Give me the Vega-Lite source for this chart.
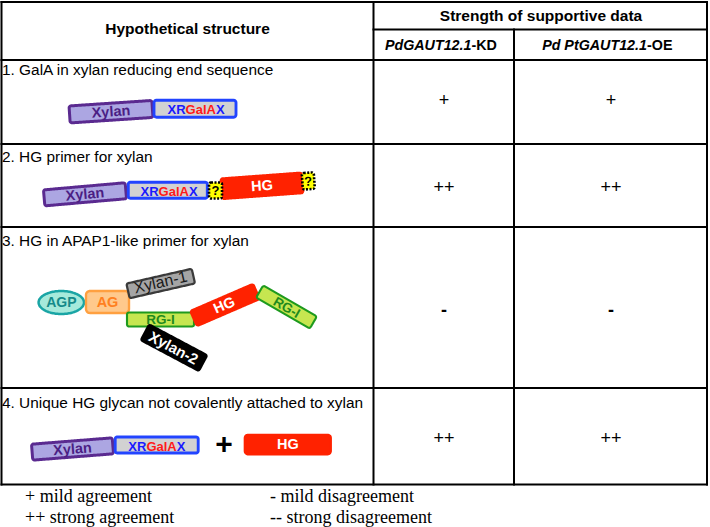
{
  "$schema": "https://vega.github.io/schema/vega-lite/v6.json",
  "width": 710,
  "height": 527,
  "padding": 0,
  "autosize": {"type": "none"},
  "background": "white",
  "config": {"view": {"stroke": null}},
  "datasets": {
    "lines": [
      {"x": 1.5, "y": 2, "x2": 707, "y2": 2},
      {"x": 373.5, "y": 29.5, "x2": 707, "y2": 29.5},
      {"x": 1.5, "y": 60, "x2": 707, "y2": 60},
      {"x": 1.5, "y": 144, "x2": 707, "y2": 144},
      {"x": 1.5, "y": 227, "x2": 707, "y2": 227},
      {"x": 1.5, "y": 388, "x2": 707, "y2": 388},
      {"x": 1.5, "y": 484.5, "x2": 707, "y2": 484.5},
      {"x": 1.5, "y": 2, "x2": 1.5, "y2": 484.5},
      {"x": 373.5, "y": 2, "x2": 373.5, "y2": 484.5},
      {"x": 514, "y": 29.5, "x2": 514, "y2": 484.5},
      {"x": 707, "y": 2, "x2": 707, "y2": 484.5}
    ],
    "boxes": [
      {"id": "x1", "kind": "xylan", "x": 111, "y": 111.7, "a": -3.8},
      {"id": "g1", "kind": "xrgalax", "x": 195, "y": 108.7, "a": 0},
      {"id": "x2", "kind": "xylan", "x": 85, "y": 194.3, "a": -5},
      {"id": "g2", "kind": "xrgalax", "x": 167.8, "y": 190.2, "a": 0},
      {"id": "h2", "kind": "hg", "x": 262, "y": 185.8, "a": -4.2},
      {"id": "q2a", "kind": "q", "x": 215.5, "y": 190.5, "a": 0},
      {"id": "q2b", "kind": "q", "x": 308.3, "y": 181, "a": -4},
      {"id": "agp", "kind": "agp", "x": 61.3, "y": 302.5, "a": 0},
      {"id": "ag", "kind": "ag", "x": 107.5, "y": 302, "a": 0},
      {"id": "rg1", "kind": "rg", "x": 160.5, "y": 319.5, "a": 0},
      {"id": "h3", "kind": "hg", "x": 225, "y": 305, "a": -23.4},
      {"id": "rg2", "kind": "rg", "x": 286.5, "y": 307, "a": 30},
      {"id": "xy2", "kind": "black", "x": 174, "y": 347.7, "a": 28},
      {"id": "xy1", "kind": "gray", "x": 160.7, "y": 283.5, "a": -12.8},
      {"id": "x4", "kind": "xylan", "x": 72.5, "y": 449, "a": -4.5},
      {"id": "g4", "kind": "xrgalax", "x": 156.7, "y": 445, "a": 0},
      {"id": "h4", "kind": "hg", "x": 287.8, "y": 444.5, "a": 0}
    ],
    "texts": [
      {"g": "head", "x": 187.5, "y": 29.4, "t": "Hypothetical structure"},
      {"g": "head", "x": 541, "y": 16.2, "t": "Strength of supportive data"},
      {"g": "subi", "x": 471.5, "y": 50, "t": "PdGAUT12.1"},
      {"g": "subi", "x": 647, "y": 50, "t": "Pd PtGAUT12.1"},
      {"g": "sub", "x": 471.5, "y": 50, "t": "-KD"},
      {"g": "sub", "x": 647, "y": 50, "t": "-OE"},
      {"g": "title", "x": 2, "y": 75, "t": "1. GalA in xylan reducing end sequence"},
      {"g": "title", "x": 2, "y": 162, "t": "2. HG primer for xylan"},
      {"g": "title", "x": 2, "y": 246, "t": "3. HG in APAP1-like primer for xylan"},
      {"g": "title", "x": 2, "y": 408, "t": "4. Unique HG glycan not covalently attached to xylan"},
      {"g": "cell", "x": 444, "y": 100.7, "t": "+"},
      {"g": "cell", "x": 611, "y": 100.7, "t": "+"},
      {"g": "cell", "x": 444, "y": 187.5, "t": "++"},
      {"g": "cell", "x": 611, "y": 187.5, "t": "++"},
      {"g": "cell", "x": 444, "y": 439, "t": "++"},
      {"g": "cell", "x": 611, "y": 439, "t": "++"},
      {"g": "minus", "x": 444, "y": 310.5, "t": "-"},
      {"g": "minus", "x": 611, "y": 310.5, "t": "-"},
      {"g": "legend", "x": 25, "y": 502, "t": "+ mild agreement"},
      {"g": "legend", "x": 25, "y": 523, "t": "++ strong agreement"},
      {"g": "legend", "x": 270, "y": 502, "t": "- mild disagreement"},
      {"g": "legend", "x": 270, "y": 523, "t": "-- strong disagreement"},
      {"g": "labX", "x": 111, "y": 112.5, "t": "Xylan", "a": -3.8},
      {"g": "labX", "x": 85, "y": 195, "t": "Xylan", "a": -5},
      {"g": "labX", "x": 72.5, "y": 449.8, "t": "Xylan", "a": -4.5},
      {"g": "labB", "x": 167.5, "y": 114.3, "t": "XR"},
      {"g": "labR", "x": 185.6, "y": 114.3, "t": "GalA"},
      {"g": "labB", "x": 215.9, "y": 114.3, "t": "X"},
      {"g": "labB", "x": 140.5, "y": 195.7, "t": "XR"},
      {"g": "labR", "x": 158.6, "y": 195.7, "t": "GalA"},
      {"g": "labB", "x": 188.9, "y": 195.7, "t": "X"},
      {"g": "labB", "x": 128.3, "y": 450.7, "t": "XR"},
      {"g": "labR", "x": 146.4, "y": 450.7, "t": "GalA"},
      {"g": "labB", "x": 176.7, "y": 450.7, "t": "X"},
      {"g": "labW", "x": 262, "y": 186.5, "t": "HG", "a": -4.2},
      {"g": "labW", "x": 224.5, "y": 305.8, "t": "HG", "a": -23.4},
      {"g": "labW", "x": 287.8, "y": 445.3, "t": "HG", "a": 0},
      {"g": "labW2", "x": 173.5, "y": 348, "t": "Xylan-2", "a": 28},
      {"g": "labQ", "x": 215.5, "y": 191.2, "t": "?", "a": 0},
      {"g": "labQ", "x": 308.3, "y": 181.7, "t": "?", "a": -4},
      {"g": "labAGP", "x": 61.3, "y": 303.3, "t": "AGP"},
      {"g": "labAG", "x": 107.5, "y": 302.8, "t": "AG"},
      {"g": "labXy1", "x": 160.5, "y": 282.5, "t": "Xylan-1", "a": -12.8},
      {"g": "labRG", "x": 160.5, "y": 320.3, "t": "RG-I", "a": 0},
      {"g": "labRG", "x": 286.5, "y": 307.8, "t": "RG-I", "a": 30},
      {"g": "bigplus", "x": 224, "y": 444.5, "t": "+"}
    ]
  },
  "encoding": {
    "x": {"field": "x", "type": "quantitative", "scale": {"domain": [0, 710], "range": [0, 710], "nice": false, "zero": false}, "axis": null},
    "y": {"field": "y", "type": "quantitative", "scale": {"domain": [0, 527], "range": [0, 527], "nice": false, "zero": false}, "axis": null}
  },
  "layer": [
    {
      "data": {"name": "lines"},
      "mark": {"type": "rule", "color": "#000000", "strokeWidth": 2, "strokeCap": "square"},
      "encoding": {"x2": {"field": "x2"}, "y2": {"field": "y2"}}
    },
    {
      "data": {"name": "boxes"},
      "mark": {"type": "point", "filled": true, "opacity": 1, "size": 4},
      "encoding": {
        "shape": {"field": "id", "type": "nominal", "legend": null, "scale": {
          "domain": ["x1", "g1", "x2", "g2", "h2", "q2a", "q2b", "agp", "ag", "rg1", "h3", "rg2", "xy2", "xy1", "x4", "g4", "h4"],
          "range": [
            "M-39.5 -8.5H39.5A2 2 0 0 1 41.5 -6.5V6.5A2 2 0 0 1 39.5 8.5H-39.5A2 2 0 0 1 -41.5 6.5V-6.5A2 2 0 0 1 -39.5 -8.5Z",
            "M-38.5 -8.5H38.5A2.5 2.5 0 0 1 41 -6V6A2.5 2.5 0 0 1 38.5 8.5H-38.5A2.5 2.5 0 0 1 -41 6V-6A2.5 2.5 0 0 1 -38.5 -8.5Z",
            "M-39 -8H39A2 2 0 0 1 41 -6V6A2 2 0 0 1 39 8H-39A2 2 0 0 1 -41 6V-6A2 2 0 0 1 -39 -8Z",
            "M-37.5 -8H37.5A2 2 0 0 1 39.5 -6V6A2 2 0 0 1 37.5 8H-37.5A2 2 0 0 1 -39.5 6V-6A2 2 0 0 1 -37.5 -8Z",
            "M-38.5 -10H38.5A2 2 0 0 1 40.5 -8V8A2 2 0 0 1 38.5 10H-38.5A2 2 0 0 1 -40.5 8V-8A2 2 0 0 1 -38.5 -10Z",
            "M-4.5 -8H4.5A2 2 0 0 1 6.5 -6V6A2 2 0 0 1 4.5 8H-4.5A2 2 0 0 1 -6.5 6V-6A2 2 0 0 1 -4.5 -8Z",
            "M-4 -8.25H4A2 2 0 0 1 6 -6.25V6.25A2 2 0 0 1 4 8.25H-4A2 2 0 0 1 -6 6.25V-6.25A2 2 0 0 1 -4 -8.25Z",
            "M-22.7 0A22.7 11.5 0 1 0 22.7 0A22.7 11.5 0 1 0 -22.7 0Z",
            "M-17.5 -11H17.5A4 4 0 0 1 21.5 -7V7A4 4 0 0 1 17.5 11H-17.5A4 4 0 0 1 -21.5 7V-7A4 4 0 0 1 -17.5 -11Z",
            "M-31.5 -7H31.5A2 2 0 0 1 33.5 -5V5A2 2 0 0 1 31.5 7H-31.5A2 2 0 0 1 -33.5 5V-5A2 2 0 0 1 -31.5 -7Z",
            "M-32 -8H32A2 2 0 0 1 34 -6V6A2 2 0 0 1 32 8H-32A2 2 0 0 1 -34 6V-6A2 2 0 0 1 -32 -8Z",
            "M-29 -7H29A2 2 0 0 1 31 -5V5A2 2 0 0 1 29 7H-29A2 2 0 0 1 -31 5V-5A2 2 0 0 1 -29 -7Z",
            "M-31 -9H31A2 2 0 0 1 33 -7V7A2 2 0 0 1 31 9H-31A2 2 0 0 1 -33 7V-7A2 2 0 0 1 -31 -9Z",
            "M-31.5 -7.5H31.5A2 2 0 0 1 33.5 -5.5V5.5A2 2 0 0 1 31.5 7.5H-31.5A2 2 0 0 1 -33.5 5.5V-5.5A2 2 0 0 1 -31.5 -7.5Z",
            "M-38.5 -8H38.5A2 2 0 0 1 40.5 -6V6A2 2 0 0 1 38.5 8H-38.5A2 2 0 0 1 -40.5 6V-6A2 2 0 0 1 -38.5 -8Z",
            "M-39.5 -8H39.5A2 2 0 0 1 41.5 -6V6A2 2 0 0 1 39.5 8H-39.5A2 2 0 0 1 -41.5 6V-6A2 2 0 0 1 -39.5 -8Z",
            "M-39.75 -9.5H39.75A3 3 0 0 1 42.75 -6.5V6.5A3 3 0 0 1 39.75 9.5H-39.75A3 3 0 0 1 -42.75 6.5V-6.5A3 3 0 0 1 -39.75 -9.5Z"
          ]}},
        "fill": {"field": "kind", "type": "nominal", "legend": null, "scale": {
          "domain": ["xylan", "xrgalax", "hg", "q", "agp", "ag", "gray", "rg", "black"],
          "range": ["#aca6e2", "#d2d2d2", "#ff2200", "#ffff00", "#a6eadb", "#ffc98c", "#a5a5a5", "#c6e650", "#000000"]}},
        "stroke": {"field": "kind", "type": "nominal", "legend": null, "scale": {
          "domain": ["xylan", "xrgalax", "hg", "q", "agp", "ag", "gray", "rg", "black"],
          "range": ["#5a2a90", "#2244ff", "#ff2200", "#000000", "#1aa5a5", "#ffa040", "#3a3a3a", "#1e9a1e", "#000000"]}},
        "strokeWidth": {"field": "kind", "type": "ordinal", "legend": null, "scale": {
          "domain": ["xylan", "xrgalax", "hg", "q", "agp", "ag", "gray", "rg", "black"],
          "range": [3, 2, 1, 1.5, 2, 2, 1.5, 2, 1]}},
        "strokeDash": {"field": "kind", "type": "nominal", "legend": null, "scale": {
          "domain": ["xylan", "xrgalax", "hg", "q", "agp", "ag", "gray", "rg", "black"],
          "range": [[1, 0], [1, 0], [1, 0], [2, 1.5], [1, 0], [1, 0], [1, 0], [1, 0], [1, 0]]}},
        "angle": {"field": "a", "type": "quantitative", "scale": null}
      }
    },
    {
      "data": {"name": "texts"},
      "transform": [{"filter": "datum.g == 'head'"}],
      "mark": {"type": "text", "font": "Liberation Sans", "fontSize": 15.5, "fontWeight": "bold", "align": "center", "baseline": "middle", "color": "#000000"},
      "encoding": {"text": {"field": "t"}}
    },
    {
      "data": {"name": "texts"},
      "transform": [{"filter": "datum.g == 'subi'"}],
      "mark": {"type": "text", "font": "Liberation Sans", "fontSize": 14.3, "fontWeight": "bold", "fontStyle": "italic", "align": "right", "baseline": "alphabetic", "color": "#000000"},
      "encoding": {"text": {"field": "t"}}
    },
    {
      "data": {"name": "texts"},
      "transform": [{"filter": "datum.g == 'sub'"}],
      "mark": {"type": "text", "font": "Liberation Sans", "fontSize": 14.3, "fontWeight": "bold", "align": "left", "baseline": "alphabetic", "color": "#000000"},
      "encoding": {"text": {"field": "t"}}
    },
    {
      "data": {"name": "texts"},
      "transform": [{"filter": "datum.g == 'title'"}],
      "mark": {"type": "text", "font": "Liberation Sans", "fontSize": 15.4, "align": "left", "baseline": "alphabetic", "color": "#000000"},
      "encoding": {"text": {"field": "t"}}
    },
    {
      "data": {"name": "texts"},
      "transform": [{"filter": "datum.g == 'cell'"}],
      "mark": {"type": "text", "font": "Liberation Sans", "fontSize": 18, "align": "center", "baseline": "middle", "color": "#000000"},
      "encoding": {"text": {"field": "t"}}
    },
    {
      "data": {"name": "texts"},
      "transform": [{"filter": "datum.g == 'minus'"}],
      "mark": {"type": "text", "font": "Liberation Sans", "fontSize": 18, "fontWeight": "bold", "align": "center", "baseline": "middle", "color": "#000000"},
      "encoding": {"text": {"field": "t"}}
    },
    {
      "data": {"name": "texts"},
      "transform": [{"filter": "datum.g == 'legend'"}],
      "mark": {"type": "text", "font": "Liberation Serif", "fontSize": 18, "align": "left", "baseline": "alphabetic", "color": "#000000"},
      "encoding": {"text": {"field": "t"}}
    },
    {
      "data": {"name": "texts"},
      "transform": [{"filter": "datum.g == 'labX'"}],
      "mark": {"type": "text", "font": "Liberation Sans", "fontSize": 14.5, "fontWeight": "bold", "align": "center", "baseline": "middle", "color": "#4b1e84"},
      "encoding": {"text": {"field": "t"}, "angle": {"field": "a", "type": "quantitative", "scale": null}}
    },
    {
      "data": {"name": "texts"},
      "transform": [{"filter": "datum.g == 'labB'"}],
      "mark": {"type": "text", "font": "Liberation Sans", "fontSize": 13, "fontWeight": "bold", "align": "left", "baseline": "alphabetic", "color": "#1a1aff"},
      "encoding": {"text": {"field": "t"}}
    },
    {
      "data": {"name": "texts"},
      "transform": [{"filter": "datum.g == 'labR'"}],
      "mark": {"type": "text", "font": "Liberation Sans", "fontSize": 13, "fontWeight": "bold", "align": "left", "baseline": "alphabetic", "color": "#ff1a1a"},
      "encoding": {"text": {"field": "t"}}
    },
    {
      "data": {"name": "texts"},
      "transform": [{"filter": "datum.g == 'labW'"}],
      "mark": {"type": "text", "font": "Liberation Sans", "fontSize": 14.5, "fontWeight": "bold", "align": "center", "baseline": "middle", "color": "#ffffff"},
      "encoding": {"text": {"field": "t"}, "angle": {"field": "a", "type": "quantitative", "scale": null}}
    },
    {
      "data": {"name": "texts"},
      "transform": [{"filter": "datum.g == 'labW2'"}],
      "mark": {"type": "text", "font": "Liberation Sans", "fontSize": 15, "fontWeight": "bold", "align": "center", "baseline": "middle", "color": "#ffffff"},
      "encoding": {"text": {"field": "t"}, "angle": {"field": "a", "type": "quantitative", "scale": null}}
    },
    {
      "data": {"name": "texts"},
      "transform": [{"filter": "datum.g == 'labQ'"}],
      "mark": {"type": "text", "font": "Liberation Sans", "fontSize": 13, "fontWeight": "bold", "align": "center", "baseline": "middle", "color": "#000000"},
      "encoding": {"text": {"field": "t"}, "angle": {"field": "a", "type": "quantitative", "scale": null}}
    },
    {
      "data": {"name": "texts"},
      "transform": [{"filter": "datum.g == 'labAGP'"}],
      "mark": {"type": "text", "font": "Liberation Sans", "fontSize": 14, "fontWeight": "bold", "align": "center", "baseline": "middle", "color": "#158a8a"},
      "encoding": {"text": {"field": "t"}}
    },
    {
      "data": {"name": "texts"},
      "transform": [{"filter": "datum.g == 'labAG'"}],
      "mark": {"type": "text", "font": "Liberation Sans", "fontSize": 14.5, "fontWeight": "bold", "align": "center", "baseline": "middle", "color": "#ff8020"},
      "encoding": {"text": {"field": "t"}}
    },
    {
      "data": {"name": "texts"},
      "transform": [{"filter": "datum.g == 'labXy1'"}],
      "mark": {"type": "text", "font": "Liberation Sans", "fontSize": 16, "align": "center", "baseline": "middle", "color": "#1a1a1a"},
      "encoding": {"text": {"field": "t"}, "angle": {"field": "a", "type": "quantitative", "scale": null}}
    },
    {
      "data": {"name": "texts"},
      "transform": [{"filter": "datum.g == 'labRG'"}],
      "mark": {"type": "text", "font": "Liberation Sans", "fontSize": 13.5, "fontWeight": "bold", "align": "center", "baseline": "middle", "color": "#1e8a1e"},
      "encoding": {"text": {"field": "t"}, "angle": {"field": "a", "type": "quantitative", "scale": null}}
    },
    {
      "data": {"name": "texts"},
      "transform": [{"filter": "datum.g == 'bigplus'"}],
      "mark": {"type": "text", "font": "Liberation Sans", "fontSize": 30, "fontWeight": "bold", "align": "center", "baseline": "middle", "color": "#000000"},
      "encoding": {"text": {"field": "t"}}
    }
  ]
}
